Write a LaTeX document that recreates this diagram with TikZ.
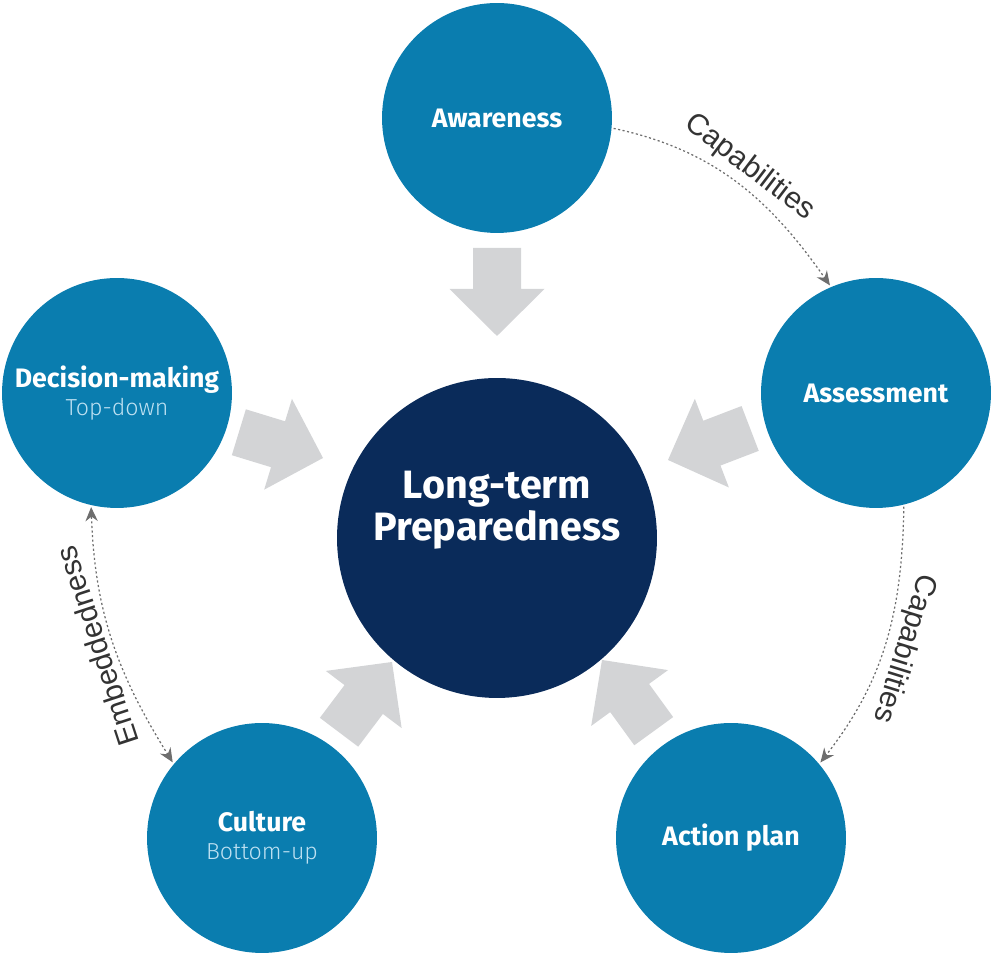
\documentclass[tikz,border=0pt]{standalone}
\usepackage{fontspec}
\setmainfont{Fira Sans}
\newfontfamily\thinfont{Fira Sans Light}
\newfontfamily\notefont{Liberation Sans}
\usetikzlibrary{arrows.meta}

\definecolor{stageblue}{RGB}{10,125,175}
\definecolor{corenavy}{RGB}{10,43,90}
\definecolor{feedgray}{RGB}{211,212,214}
\definecolor{linkgray}{RGB}{110,110,110}
\definecolor{subblue}{RGB}{190,225,242}

\tikzset{
    stage/.style={circle, fill=stageblue, minimum size=4.6cm, inner sep=0pt,
        text=white, align=center, font=\bfseries\fontsize{15.2}{18}\selectfont},
    corecircle/.style={circle, fill=corenavy, minimum size=6.4cm, inner sep=0pt},
    feed/.style={fill=feedgray},
    link/.style={draw=linkgray, line width=.7pt, dash pattern=on 1.2pt off 1.4pt,
        -{Stealth[length=8pt, width=7pt]}, shorten >=1pt, shorten <=1pt},
    linklabel/.style={font=\notefont\fontsize{17}{20}\selectfont, text=black!80,
        sloped, above, inner sep=3pt},
}
\newcommand{\sub}[1]{{\mdseries\thinfont\fontsize{13.2}{16}\selectfont\color{subblue}#1}}

\begin{document}
\begin{tikzpicture}[x=0.02cm, y=0.02cm]
    \useasboundingbox (0,0) rectangle (992,955);

    % circles
    \node[corecircle] (core) at (497,417) {};
    \node[text=white, align=center, font=\bfseries\fontsize{22.5}{24}\selectfont]
        (corelabel) at (497,445) {Long-term\\Preparedness};
    \node[stage] (aware)   at (497,837) {Awareness};
    \node[stage] (assess)  at (876,562) {Assessment};
    \node[stage] (action)  at (731,117) {Action plan};
    \node[stage] (culture) at (262,117) {Culture\\[-2pt]\sub{Bottom-up}};
    \node[stage] (decide)  at (117,562) {Decision-making\\[-2pt]\sub{Top-down}};

    % big arrows into the core (tip x / tip y / direction)
    \foreach \tx/\ty/\ang in {497/619/-90, 323/497/-17, 392/293/53, 602/295/126, 668/495/201}
        \fill[feed, shift={(\tx,\ty)}, rotate=\ang]
            (0,0) -- (-47,47.5) -- (-47,24) -- (-88,24) -- (-88,-24)
            -- (-47,-24) -- (-47,-47.5) -- cycle;

    % dotted links
    \draw[link] (aware.-5) to[out=-12, in=125]
        node[linklabel] {Capabilities} (assess.113);
    \draw[link] (assess.-76) to[out=-91, in=52]
        node[linklabel, allow upside down] {Capabilities} (action.40);
    \draw[link, {Stealth[length=8pt, width=7pt]}-{Stealth[length=8pt, width=7pt]}]
        (culture.140) to[out=122, in=-88]
        node[linklabel, allow upside down] {Embeddedness} (decide.-103);
\end{tikzpicture}
\end{document}
